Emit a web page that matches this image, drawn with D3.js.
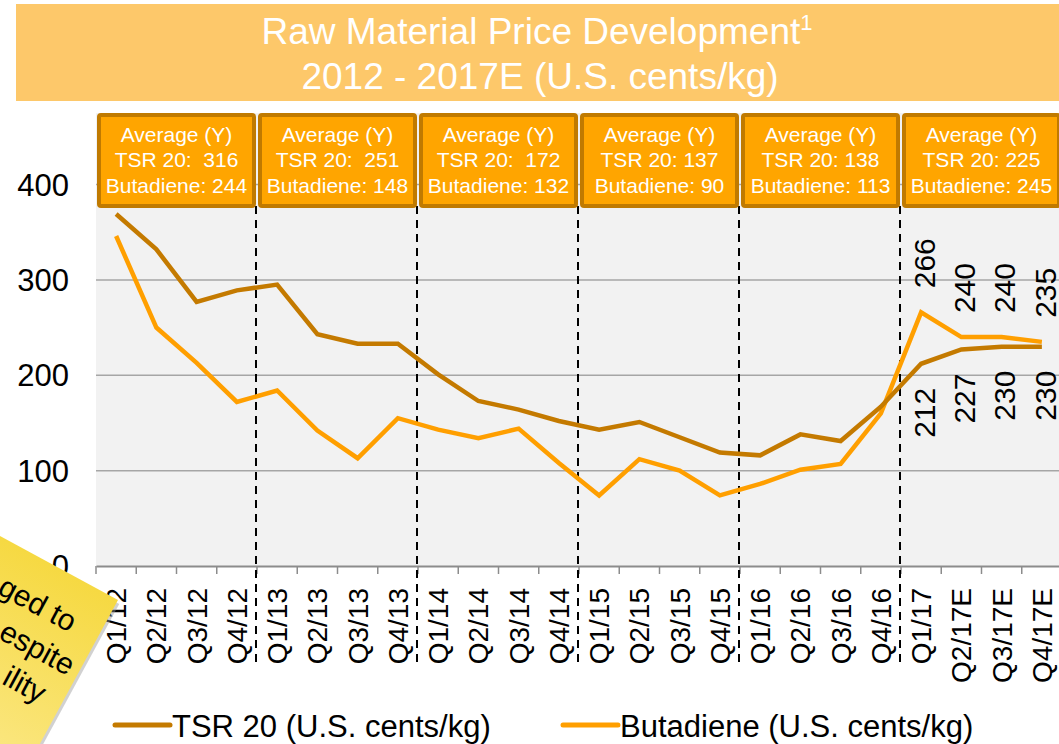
<!DOCTYPE html>
<html><head><meta charset="utf-8">
<script src="https://cdn.jsdelivr.net/npm/d3@7"></script>
<style>
body{margin:0;background:#fff;overflow:hidden}
text{font-family:"Liberation Sans",Arial,sans-serif}
</style></head>
<body><svg id="c" width="1059" height="744"></svg>
<script>
const categories = ["Q1/12","Q2/12","Q3/12","Q4/12","Q1/13","Q2/13","Q3/13","Q4/13","Q1/14","Q2/14","Q3/14","Q4/14","Q1/15","Q2/15","Q3/15","Q4/15","Q1/16","Q2/16","Q3/16","Q4/16","Q1/17","Q2/17E","Q3/17E","Q4/17E"];
const tsr20 = [369,332,277,289,295,243,233,233,201,173,164,152,143,151,135,119,116,138,131,167,212,227,230,230];
const butadiene = [346,250,213,172,184,142,113,155,143,134,144,108,74,112,100,74,86,101,107,160,266,240,240,235];
const years = ["2012","2013","2014","2015","2016","2017"];
const avgTsr = ["316","251","172","137","138","225"];
const avgTsrSep = ["  ","  ","  "," "," "," "];
const avgButadiene = ["244","148","132","90","113","245"];
const yTicks = [0,100,200,300,400];
const labeledFrom = 20;
const seriesNames = ["TSR 20 (U.S. cents/kg)","Butadiene (U.S. cents/kg)"];
const titleLines = ["Raw Material Price Development","2012 - 2017E (U.S. cents/kg)"];
const noteLines = ["ged to","espite","ility"];

const C_TSR = "#C47A00", C_BUT = "#FF9F00";
const svg = d3.select("#c");
const x = d3.scaleBand().domain(categories).range([96, 96 + 24*40.25]).paddingInner(0).paddingOuter(0);
const y = d3.scaleLinear().domain([0,400]).range([566,184.5]);
const cx = d => x(d) + x.bandwidth()/2;

// title band
svg.append("rect").attr("x",16).attr("y",4).attr("width",1043).attr("height",97).attr("fill","#FDC86A");
const t1 = svg.append("text").attr("x",537).attr("y",44).attr("text-anchor","middle").attr("fill","#fff").attr("font-size",37);
t1.append("tspan").text(titleLines[0]);
t1.append("tspan").attr("font-size",22).attr("dy",-14).text("1");
svg.append("text").attr("x",540).attr("y",89).attr("text-anchor","middle").attr("fill","#fff").attr("font-size",37).text(titleLines[1]);

// plot background
svg.append("rect").attr("x",96).attr("y",113).attr("width",1059-96).attr("height",566-113).attr("fill","#F2F2F2");

// gridlines
svg.append("g").selectAll("line").data(yTicks.filter(d=>d>0)).join("line")
  .attr("x1",96).attr("x2",1059).attr("y1",d=>y(d)).attr("y2",d=>y(d))
  .attr("stroke","#A6A6A6").attr("stroke-width",1.5);

// y labels
svg.append("g").selectAll("text").data(yTicks).join("text")
  .attr("x",69).attr("y",d=>y(d)).attr("dy","0.36em").attr("text-anchor","end")
  .attr("font-size",31).attr("fill","#000").text(d=>d);

// x axis
const xa = svg.append("g").attr("transform","translate(0,566)")
  .call(d3.axisBottom(x).tickSize(0).tickFormat(""));
xa.select(".domain").attr("stroke","#8C8C8C").attr("stroke-width",2);
svg.append("g").selectAll("line").data(categories).join("line")
  .attr("x1",d=>x(d)).attr("x2",d=>x(d)).attr("y1",566).attr("y2",574)
  .attr("stroke","#8C8C8C").attr("stroke-width",1.5);
svg.append("g").selectAll("text").data(categories).join("text")
  .attr("transform",d=>`translate(${cx(d)},588) rotate(-90)`)
  .attr("text-anchor","end").attr("dy","0.36em").attr("font-size",28).attr("fill","#000").text(d=>d);

// year dividers
const dividers = categories.filter((d,i)=> i>0 && i%4===0);
svg.append("g").selectAll("line").data(dividers).join("line")
  .attr("x1",d=>x(d)-1).attr("x2",d=>x(d)-1).attr("y1",206).attr("y2",664)
  .attr("stroke","#000").attr("stroke-width",2).attr("stroke-dasharray","8,6");

// average boxes
const boxes = svg.append("g").selectAll("g").data(years).join("g")
  .attr("transform",(d,i)=>`translate(${x(categories[i*4])},113)`);
boxes.append("rect").attr("x",3).attr("y",2).attr("width",x.bandwidth()*4-6).attr("height",91)
  .attr("rx",2).attr("fill","#FFA500").attr("stroke","#C07A00").attr("stroke-width",4);
boxes.each(function(d,i){
  const g = d3.select(this), w = x.bandwidth()*4;
  const lines = ["Average (Y)", "TSR 20:"+avgTsrSep[i]+avgTsr[i], "Butadiene: "+avgButadiene[i]];
  lines.forEach((s,j)=>{
    g.append("text").attr("x",w/2).attr("y",29+j*25.3).attr("text-anchor","middle")
     .attr("font-size",21).attr("fill","#fff").style("white-space","pre").text(s);
  });
});

// lines
const line = d3.line().x((d,i)=>cx(categories[i])).y(d=>y(d));
svg.append("path").datum(butadiene).attr("d",line).attr("fill","none").attr("stroke",C_BUT).attr("stroke-width",4.5).attr("stroke-linejoin","miter");
svg.append("path").datum(tsr20).attr("d",line).attr("fill","none").attr("stroke",C_TSR).attr("stroke-width",4.5).attr("stroke-linejoin","miter");

// data labels
const idx = d3.range(labeledFrom, categories.length);
svg.append("g").selectAll("text").data(idx).join("text")
  .attr("transform",i=>`translate(${cx(categories[i])+3},${y(butadiene[i])-24}) rotate(-90)`)
  .attr("dy","0.36em").attr("text-anchor","start").attr("font-size",30).attr("fill","#000").text(i=>butadiene[i]);
svg.append("g").selectAll("text").data(idx).join("text")
  .attr("transform",i=>`translate(${cx(categories[i])+3},${y(tsr20[i])+24}) rotate(-90)`)
  .attr("dy","0.36em").attr("text-anchor","end").attr("font-size",30).attr("fill","#000").text(i=>tsr20[i]);

// legend
const lg = [{x:115, c:C_TSR, t:seriesNames[0]},{x:563, c:C_BUT, t:seriesNames[1]}];
const leg = svg.append("g").selectAll("g").data(lg).join("g");
leg.append("line").attr("x1",d=>d.x).attr("x2",d=>d.x+55).attr("y1",725).attr("y2",725).attr("stroke",d=>d.c).attr("stroke-width",5).attr("stroke-linecap","round");
leg.append("text").attr("x",d=>d.x+57).attr("y",737).attr("font-size",31).attr("fill","#000").text(d=>d.t);

// sticky note
const defs = svg.append("defs");
const gr = defs.append("linearGradient").attr("id","ng").attr("x1","0").attr("y1","0").attr("x2","0").attr("y2","1");
gr.append("stop").attr("offset","0").attr("stop-color","#F6D942");
gr.append("stop").attr("offset","1").attr("stop-color","#FCEB95");
const note = svg.append("g").attr("transform","translate(118,600) rotate(28.5)");
note.append("rect").attr("x",-257).attr("y",3).attr("width",260).attr("height",260).attr("fill","#9a9a9a").attr("opacity",0.45);
note.append("rect").attr("x",-260).attr("y",0).attr("width",260).attr("height",260).attr("fill","url(#ng)");
noteLines.forEach((s,j)=>{
  note.append("text").attr("x",[-27,-8,-20][j]).attr("y",[52,91,129][j]).attr("text-anchor","end")
    .attr("font-size",30).attr("fill","#000").text(s);
});
</script></body></html>
